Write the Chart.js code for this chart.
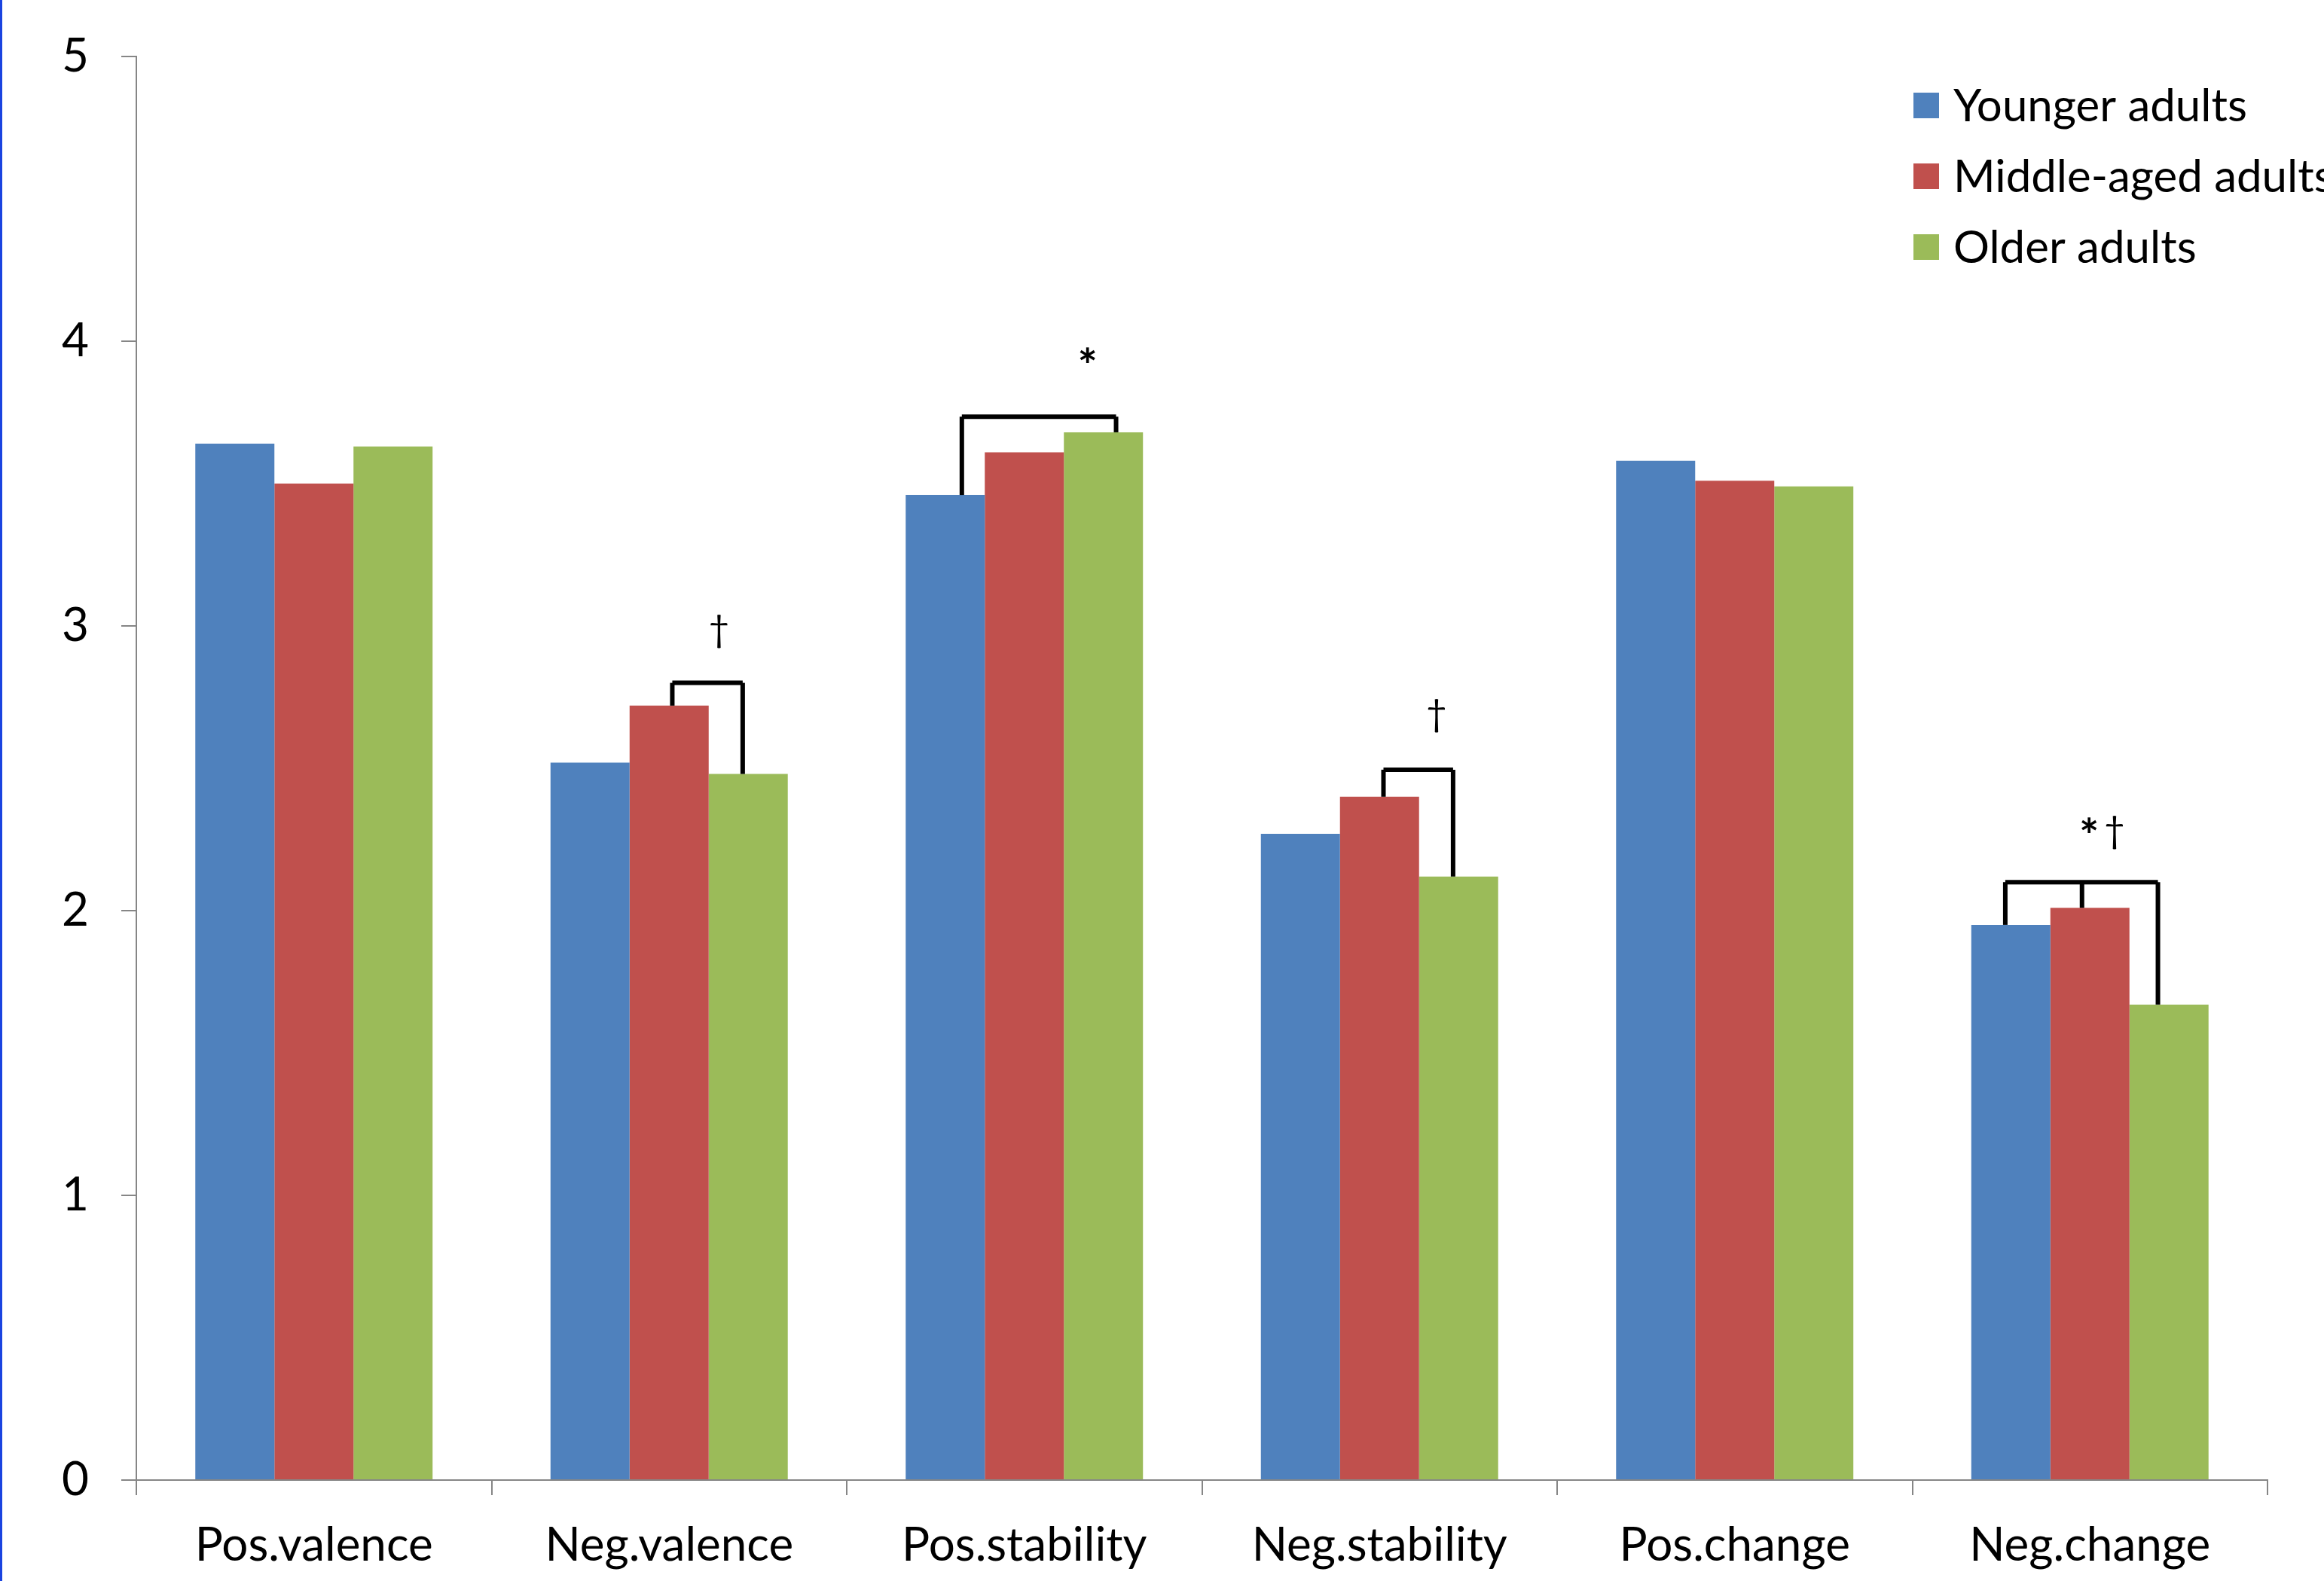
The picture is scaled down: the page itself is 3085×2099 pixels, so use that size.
<!DOCTYPE html>
<html>
<head>
<meta charset="utf-8">
<script src="https://cdn.jsdelivr.net/npm/chart.js@4.4.0/dist/chart.umd.min.js"></script>
<style>
  html, body { margin: 0; padding: 0; background: #fff; }
  body { width: 3085px; height: 2099px; overflow: hidden; position: relative; }
  #wrap { position: absolute; left: 0; top: 0; width: 3085px; height: 2099px; }
  #edge { position: absolute; left: 0; top: 0; width: 3px; height: 2099px; background: #1a44e0; }
</style>
</head>
<body>
<div id="wrap"><canvas id="ageChart"></canvas></div>
<div id="edge"></div>
<script>
// values
const categories = ["Pos.valence", "Neg.valence", "Pos.stability", "Neg.stability", "Pos.change", "Neg.change"];
const groups = ["Younger adults", "Middle-aged adults", "Older adults"];
const younger = [3.64, 2.52, 3.46, 2.27, 3.58, 1.95];
const middleAged = [3.50, 2.72, 3.61, 2.40, 3.51, 2.01];
const older = [3.63, 2.48, 3.68, 2.12, 3.49, 1.67];
const yTicks = [0, 1, 2, 3, 4, 5];

// significance brackets: category, bracket height, legs [bar position, bar it drops to], marks [text, bar position, height]
const sigBrackets = [
  { cat: 1, level: 2.80, legs: [[1.04, 1], [1.93, 2]], marks: [["†", 1.63, 2.98]] },
  { cat: 2, level: 3.735, legs: [[0.21, 0], [2.16, 2]], marks: [["*", 1.80, 3.95]] },
  { cat: 3, level: 2.495, legs: [[1.05, 1], [1.93, 2]], marks: [["†", 1.72, 2.685]] },
  { cat: 5, level: 2.10, legs: [[-0.07, 0], [0.90, 1], [1.86, 2]], marks: [["*", 0.99, 2.30], ["†", 1.31, 2.275]] },
];

const series = [younger, middleAged, older];
const colors = ["#4F81BD", "#C0504D", "#9BBB59"];
const FONT = "Lato";
const axisGrey = "#868686";

function barX(chart, cat, pos) {
  const m0 = chart.getDatasetMeta(0).data[cat];
  const m1 = chart.getDatasetMeta(1).data[cat];
  return m0.x + pos * (m1.x - m0.x);
}

const bracketPlugin = {
  id: "brackets",
  afterDatasetsDraw(chart) {
    const ctx = chart.ctx;
    const y = chart.scales.y;
    ctx.save();
    ctx.strokeStyle = "#000";
    ctx.lineWidth = 6;
    ctx.lineJoin = "round";
    sigBrackets.forEach((b) => {
      const top = y.getPixelForValue(b.level);
      const xs = b.legs.map((l) => barX(chart, b.cat, l[0]));
      ctx.beginPath();
      ctx.moveTo(Math.min(...xs), top);
      ctx.lineTo(Math.max(...xs), top);
      ctx.stroke();
      b.legs.forEach((l, i) => {
        ctx.beginPath();
        ctx.moveTo(xs[i], top);
        ctx.lineTo(xs[i], y.getPixelForValue(series[l[1]][b.cat]));
        ctx.stroke();
      });
      ctx.fillStyle = "#000";
      ctx.textAlign = "center";
      ctx.textBaseline = "alphabetic";
      b.marks.forEach((m) => {
        ctx.font = m[0] === "*" ? "bold 62px " + FONT : "48px " + FONT;
        const box = ctx.measureText(m[0]);
        const yc = y.getPixelForValue(m[2]);
        ctx.fillText(m[0], barX(chart, b.cat, m[1]),
          yc + (box.actualBoundingBoxAscent - box.actualBoundingBoxDescent) / 2);
      });
    });
    ctx.restore();
  },
};

const legendPlugin = {
  id: "sideLegend",
  afterDraw(chart) {
    const ctx = chart.ctx;
    const area = chart.chartArea;
    const x0 = area.right - 470;
    let yc = area.top + 65;
    ctx.save();
    ctx.font = "60px " + FONT;
    ctx.textBaseline = "middle";
    ctx.textAlign = "left";
    chart.data.datasets.forEach((ds) => {
      ctx.fillStyle = ds.backgroundColor;
      ctx.fillRect(x0, yc - 17, 34, 34);
      ctx.fillStyle = "#000";
      ctx.fillText(ds.label, x0 + 53, yc + 2);
      yc += 94;
    });
    ctx.restore();
  },
};

const ctx = document.getElementById("ageChart").getContext("2d");

new Chart(ctx, {
  type: "bar",
  data: {
    labels: categories,
    datasets: groups.map((g, i) => ({
      label: g,
      data: series[i],
      backgroundColor: colors[i],
      borderWidth: 0,
      categoryPercentage: 0.668,
      barPercentage: 1.0,
    })),
  },
  options: {
    responsive: true,
    maintainAspectRatio: false,
    animation: false,
    layout: { padding: { top: 75, right: 75, left: 0, bottom: 0 } },
    plugins: {
      legend: { display: false },
      tooltip: { enabled: false },
    },
    scales: {
      x: {
        grid: {
          drawOnChartArea: false,
          drawTicks: true,
          tickLength: 20,
          color: axisGrey,
          lineWidth: 2,
        },
        border: { color: axisGrey, width: 2 },
        ticks: {
          padding: 30,
          color: "black",
          font: { family: FONT, size: 62 },
          maxRotation: 0,
        },
        afterFit: (scale) => { scale.height = 134; },
      },
      y: {
        min: 0,
        max: 5,
        afterBuildTicks: (scale) => { scale.ticks = yTicks.map((v) => ({ value: v })); },
        grid: {
          drawOnChartArea: false,
          drawTicks: true,
          tickLength: 20,
          color: axisGrey,
          lineWidth: 2,
        },
        border: { color: axisGrey, width: 2 },
        ticks: {
          padding: 43,
          color: "black",
          font: { family: FONT, size: 62 },
        },
        afterFit: (scale) => {
          scale.width = 181;
          scale.paddingTop = 38;
          scale.paddingBottom = 38;
        },
      },
    },
  },
  plugins: [bracketPlugin, legendPlugin],
});
</script>
</body>
</html>
